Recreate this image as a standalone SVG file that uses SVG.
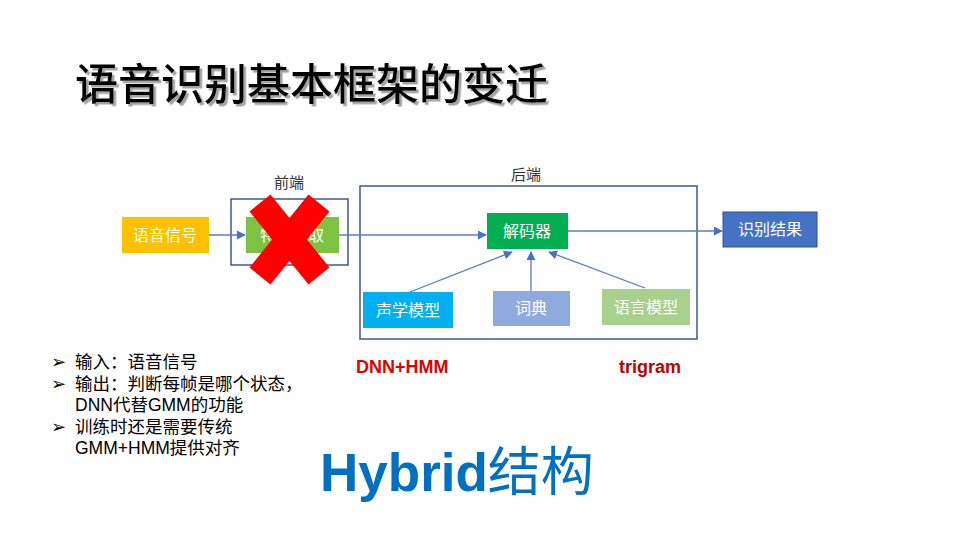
<svg xmlns="http://www.w3.org/2000/svg" width="960" height="540" viewBox="0 0 960 540">
<defs>
<style>
.cjk{font-family:"Liberation Sans","Noto Sans CJK SC",sans-serif}
.lbl{font-family:"Liberation Sans","Noto Sans CJK SC",sans-serif;font-size:16px;fill:#fff;text-anchor:middle;dominant-baseline:central}
.frame{fill:none;stroke:#3F5597;stroke-width:1.5}
.conn{fill:none;stroke:#5B7BC0;stroke-width:1.3}
.bul{font-family:"Liberation Sans","Noto Sans CJK SC",sans-serif;font-size:17.5px;fill:#000}
.arr{font-family:"DejaVu Sans",sans-serif;font-size:18px;fill:#000}
</style>
<filter id="shadow" x="-5%" y="-20%" width="110%" height="150%">
<feDropShadow dx="2.5" dy="2.5" stdDeviation="0.6" flood-color="#999" flood-opacity="0.9"/>
</filter>
<marker id="ah" viewBox="0 0 10 10" refX="9" refY="5" markerWidth="9" markerHeight="9" markerUnits="userSpaceOnUse" orient="auto">
<path d="M0,0 L10,5 L0,10 z" fill="#4472C4"/>
</marker>
</defs>
<rect width="960" height="540" fill="#fff"/>
<g id="title">
<text x="75" y="100" class="cjk" font-size="43" font-weight="500" fill="#000" filter="url(#shadow)">语音识别基本框架的变迁</text>
</g>
<g id="frontend">
<rect x="231" y="199" width="117" height="66" class="frame"/>
<text x="289" y="188" class="cjk" font-size="15" fill="#333" text-anchor="middle">前端</text>
</g>
<g id="backend">
<rect x="360" y="186" width="337" height="153" class="frame"/>
<text x="526" y="180" class="cjk" font-size="15" fill="#333" text-anchor="middle">后端</text>
</g>
<g id="connectors">
<line x1="209" y1="235" x2="245" y2="235" class="conn" marker-end="url(#ah)"/>
<line x1="339" y1="235" x2="486" y2="235" class="conn" marker-end="url(#ah)"/>
<line x1="568" y1="231" x2="722" y2="231" class="conn" marker-end="url(#ah)"/>
<line x1="410" y1="292" x2="512" y2="252" class="conn" marker-end="url(#ah)"/>
<line x1="531" y1="291" x2="531" y2="252" class="conn" marker-end="url(#ah)"/>
<line x1="645" y1="288" x2="549" y2="252" class="conn" marker-end="url(#ah)"/>
</g>
<g id="signal">
<rect x="122" y="217" width="87" height="36" fill="#FFC000"/>
<text x="165" y="235" class="lbl">语音信号</text>
</g>
<g id="feature">
<rect x="246" y="217" width="93" height="36" fill="#7DC242"/>
<text x="292" y="235" class="lbl">特征提取</text>
</g>
<g id="decoder">
<rect x="487" y="213" width="81" height="36" fill="#00B050"/>
<text x="527" y="231" class="lbl">解码器</text>
</g>
<g id="result">
<rect x="723" y="212" width="94" height="35" fill="#4472C4" stroke="#2F528F" stroke-width="1"/>
<text x="770" y="229.5" class="lbl">识别结果</text>
</g>
<g id="acoustic">
<rect x="363" y="292" width="90" height="36" fill="#00B0F0"/>
<text x="408" y="310" class="lbl">声学模型</text>
</g>
<g id="lexicon">
<rect x="493" y="291" width="77" height="35" fill="#8FAADC"/>
<text x="531" y="308.5" class="lbl">词典</text>
</g>
<g id="lm">
<rect x="602" y="289" width="88" height="36" fill="#A9D18E"/>
<text x="646" y="307" class="lbl">语言模型</text>
</g>
<g id="cross">
<line x1="260" y1="203" x2="319" y2="276" stroke="#FF0000" stroke-width="27"/>
<line x1="319" y1="203" x2="260" y2="276" stroke="#FF0000" stroke-width="27"/>
</g>
<g id="bullets">
<text x="51" y="368" class="arr">➢</text>
<text x="75" y="368" class="bul">输入：语音信号</text>
<text x="51" y="390" class="arr">➢</text>
<text x="75" y="390" class="bul">输出：判断每帧是哪个状态，</text>
<text x="75" y="411" class="bul">DNN代替GMM的功能</text>
<text x="51" y="433" class="arr">➢</text>
<text x="75" y="433" class="bul">训练时还是需要传统</text>
<text x="75" y="454" class="bul">GMM+HMM提供对齐</text>
</g>
<g id="notes">
<text x="356" y="373" font-family="Liberation Sans,sans-serif" font-size="18" font-weight="bold" fill="#E00000">DNN+HMM</text>
<text x="619" y="373" font-family="Liberation Sans,sans-serif" font-size="18" font-weight="bold" fill="#C00000">trigram</text>
</g>
<g id="hybrid">
<text x="320" y="491" class="cjk" font-size="53" font-weight="bold" fill="#0070C0">Hybrid<tspan font-weight="normal">结构</tspan></text>
</g>
</svg>
